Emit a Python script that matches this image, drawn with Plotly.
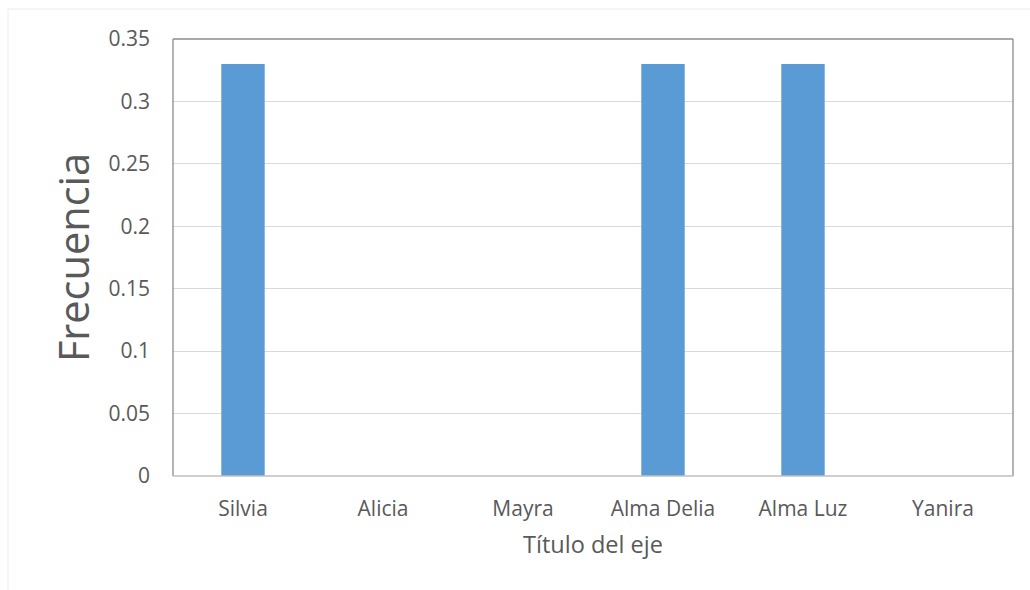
import plotly.graph_objects as go

nombres = ["Silvia", "Alicia", "Mayra", "Alma Delia", "Alma Luz", "Yanira"]
frecuencia = [0.33, 0, 0, 0.33, 0.33, 0]
y_ticks = [0, 0.05, 0.1, 0.15, 0.2, 0.25, 0.3, 0.35]
y_tick_text = ["0", "0.05", "0.1", "0.15", "0.2", "0.25", "0.3", "0.35"]

W, H = 1030, 590
L, R, T, B = 173, 17, 39, 114
pw, ph = W - L - R, H - T - B

fig = go.Figure(
    go.Bar(
        x=nombres,
        y=frecuencia,
        marker=dict(color="#5b9bd5", line=dict(width=0)),
        width=0.31,
    )
)

font_family = "Open Sans, DejaVu Sans, sans-serif"
txt = "#595959"

fig.update_layout(
    width=W,
    height=H,
    margin=dict(l=L, r=R, t=T, b=B),
    paper_bgcolor="white",
    plot_bgcolor="white",
    showlegend=False,
    font=dict(family=font_family, color=txt, size=16),
    xaxis=dict(
        showgrid=False,
        showline=False,
        ticks="",
        ticklabelstandoff=18,
        tickfont=dict(size=21, color=txt),
        title=dict(text="Título del eje", font=dict(size=23.5, color=txt), standoff=15),
    ),
    yaxis=dict(
        range=[0, 0.35],
        tickvals=y_ticks,
        ticktext=y_tick_text,
        showgrid=True,
        gridcolor="#d9d9d9",
        gridwidth=1,
        zeroline=False,
        showline=False,
        ticks="",
        ticklabelstandoff=22,
        tickfont=dict(size=21, color=txt),
        title=dict(text="Frecuencia", font=dict(size=41.5, color=txt), standoff=5),
    ),
    shapes=[
        # chart frame
        dict(type="rect", xref="paper", yref="paper",
             x0=(8 - L) / pw, x1=(W + 20 - L) / pw,
             y0=(T + ph - (H + 20)) / ph, y1=(T + ph - 9) / ph,
             line=dict(color="#ebebeb", width=1), layer="below"),
        # plot area border
        dict(type="line", xref="paper", yref="paper", x0=0, x1=0, y0=0, y1=1,
             line=dict(color="#8c8c8c", width=1.3)),
        dict(type="line", xref="paper", yref="paper", x0=0, x1=1, y0=1, y1=1,
             line=dict(color="#8c8c8c", width=1.3)),
        dict(type="line", xref="paper", yref="paper", x0=1, x1=1, y0=0, y1=1,
             line=dict(color="#8c8c8c", width=1.3)),
        dict(type="line", xref="paper", yref="paper", x0=0, x1=1, y0=0, y1=0,
             line=dict(color="#bfbfbf", width=1.3)),
    ],
)

fig.write_html("out.html")
